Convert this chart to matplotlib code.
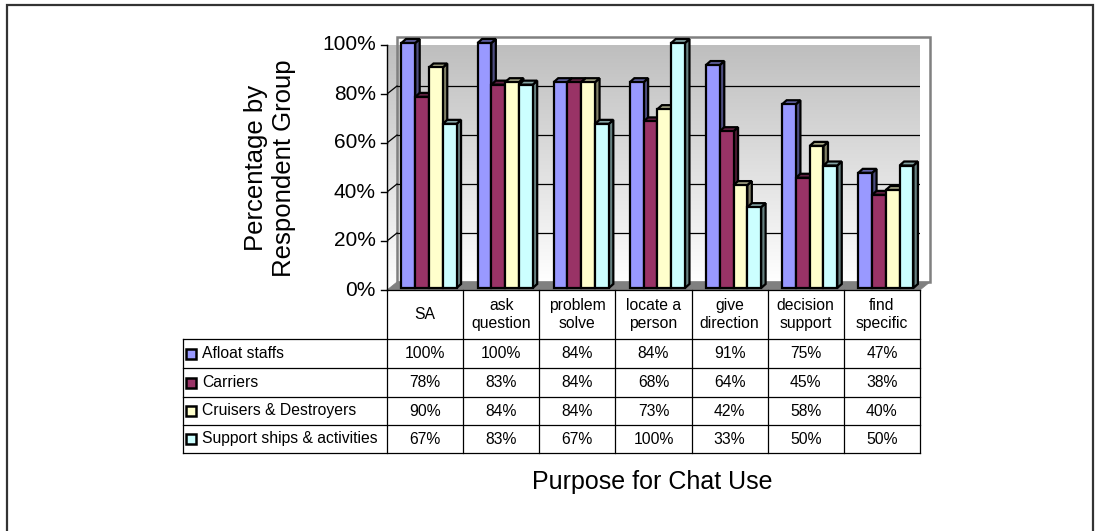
import numpy as np
import matplotlib.pyplot as plt
from matplotlib.patches import Polygon, Rectangle
from matplotlib.colors import LinearSegmentedColormap, to_rgb

plt.rcParams['font.family'] = ['Liberation Sans', 'DejaVu Sans']

categories = ["SA", "ask\nquestion", "problem\nsolve", "locate a\nperson",
              "give\ndirection", "decision\nsupport", "find\nspecific"]
series = ["Afloat staffs", "Carriers", "Cruisers & Destroyers",
          "Support ships & activities"]
afloat = [100, 100, 84, 84, 91, 75, 47]
carriers = [78, 83, 84, 68, 64, 45, 38]
cruisers = [90, 84, 84, 73, 42, 58, 40]
support = [67, 83, 67, 100, 33, 50, 50]
yticks = [0, 20, 40, 60, 80, 100]
colors = ["#9999FF", "#993366", "#FFFFCC", "#CCFFFF"]
values = [afloat, carriers, cruisers, support]

W, H = 1099, 531
fig = plt.figure(figsize=(W / 100, H / 100), dpi=100)
fig.patch.set_facecolor("white")

# front plane of the plot: x 387..920 px, 0% at y=290, 100% at y=45
ax = fig.add_axes([387 / W, (H - 290) / H, 533 / W, 245 / H])
ax.set_xlim(0, 7)
ax.set_ylim(0, 100)
ax.axis("off")

px = 7 / 533.0     # data units per pixel, x
py = 100 / 245.0   # data units per pixel, y
dx, dy = 10 * px, 8 * py
n = len(categories)

# walls with gradient
grad = np.linspace(0, 1, 256).reshape(-1, 1)
cmap = LinearSegmentedColormap.from_list("wall", ["#ffffff", "#bcbcbc"])
back = ax.imshow(grad, extent=[dx, n + dx, dy, 100 + dy], origin="lower",
                 cmap=cmap, aspect="auto", zorder=1)
side_poly = Polygon([(0, 0), (dx, dy), (dx, 100 + dy), (0, 100)],
                    closed=True, facecolor="none", edgecolor="none")
ax.add_patch(side_poly)
side = ax.imshow(grad, extent=[0, dx, 0, 100 + dy], origin="lower",
                 cmap=cmap, aspect="auto", zorder=1)
side.set_clip_path(side_poly)
ax.add_patch(Rectangle((dx, dy), n, 100, fill=False, edgecolor="#808080",
                       lw=1.8, zorder=2, clip_on=False))
ax.add_patch(Polygon([(0, 0), (n, 0), (n + dx, dy), (dx, dy)], closed=True,
                     facecolor="#808080", edgecolor="#808080", lw=0.5,
                     zorder=2, clip_on=False))

for v in yticks[1:-1]:
    ax.plot([dx, n + dx], [v + dy, v + dy], color="black", lw=0.9, zorder=2)
    ax.plot([0, dx], [v, v + dy], color="black", lw=0.9, zorder=2)

# bars
ox, oy = 3 * px, 2 * py
bx, by = 4.5 * px, 4 * py
bw = 0.181
z = 10
for i in range(n):
    for j, vals in enumerate(values):
        v = vals[i]
        base = np.array(to_rgb(colors[j]))
        x0 = i + 0.15 + j * bw + ox
        x1 = x0 + bw
        y0 = oy
        y1 = v + oy
        sidef = Polygon([(x1, y0), (x1 + bx, y0 + by), (x1 + bx, y1 + by), (x1, y1)],
                        closed=True, facecolor=base * 0.5, edgecolor="black",
                        lw=1.6, zorder=z, clip_on=False, joinstyle="miter")
        topf = Polygon([(x0, y1), (x0 + bx, y1 + by), (x1 + bx, y1 + by), (x1, y1)],
                       closed=True, facecolor=base * 0.65, edgecolor="black",
                       lw=1.6, zorder=z, clip_on=False, joinstyle="miter")
        front = Rectangle((x0, y0), bw, v, facecolor=colors[j], edgecolor="black",
                          lw=1.6, zorder=z + 1, clip_on=False, joinstyle="miter")
        ax.add_patch(sidef)
        ax.add_patch(topf)
        ax.add_patch(front)
        z += 2

# value axis
ax.plot([0, 0], [0, 100], color="black", lw=1.0, zorder=5, clip_on=False)
for v in yticks:
    ax.plot([-6 * px, 0], [v, v], color="black", lw=1.0, clip_on=False)
    ax.text(-11 * px, v, f"{v}%", ha="right", va="center", fontsize=15)

# data table
head_b = -49 * py
row_lines = [-49, -78, -107, -135, -163]
left = -204 * px
lc = dict(color="black", lw=0.9, clip_on=False, zorder=5)
ax.plot([0, n], [0, 0], **lc)
ax.plot([0, 0], [0, row_lines[-1] * py], **lc)
for k in range(1, n + 1):
    ax.plot([k, k], [0, row_lines[-1] * py], **lc)
for r in row_lines:
    ax.plot([left, n], [r * py, r * py], **lc)
ax.plot([left, left], [row_lines[0] * py, row_lines[-1] * py], **lc)

for i, c in enumerate(categories):
    ax.text(i + 0.5, head_b / 2, c, ha="center", va="center", fontsize=11.3,
            linespacing=1.3, multialignment="center")

for j, name in enumerate(series):
    yc = (row_lines[j] + row_lines[j + 1]) / 2 * py
    ax.add_patch(Rectangle((left + 3 * px, yc - 5 * py), 10 * px, 10 * py,
                           facecolor=colors[j], edgecolor="black", lw=1.8,
                           clip_on=False, zorder=6))
    ax.text(left + 19 * px, yc, name, ha="left", va="center", fontsize=11.3)
    for i in range(n):
        ax.text(i + 0.5, yc, f"{values[j][i]}%", ha="center", va="center",
                fontsize=11.3)

# axis titles
ax.text(-117 * px, 122 * py, "Percentage by\nRespondent Group", rotation=90,
        ha="center", va="center", fontsize=18.5, linespacing=1.2,
        multialignment="center")
ax.text(265 * px, -192 * py, "Purpose for Chat Use", ha="center", va="center",
        fontsize=18)

# outer border
fig.add_artist(Rectangle((7 / W, -0.1), (1093 - 7) / W, 1.1 - 5 / H,
                         transform=fig.transFigure, fill=False,
                         edgecolor="#333333", lw=1.6))

fig.savefig("out.png", dpi=100)
